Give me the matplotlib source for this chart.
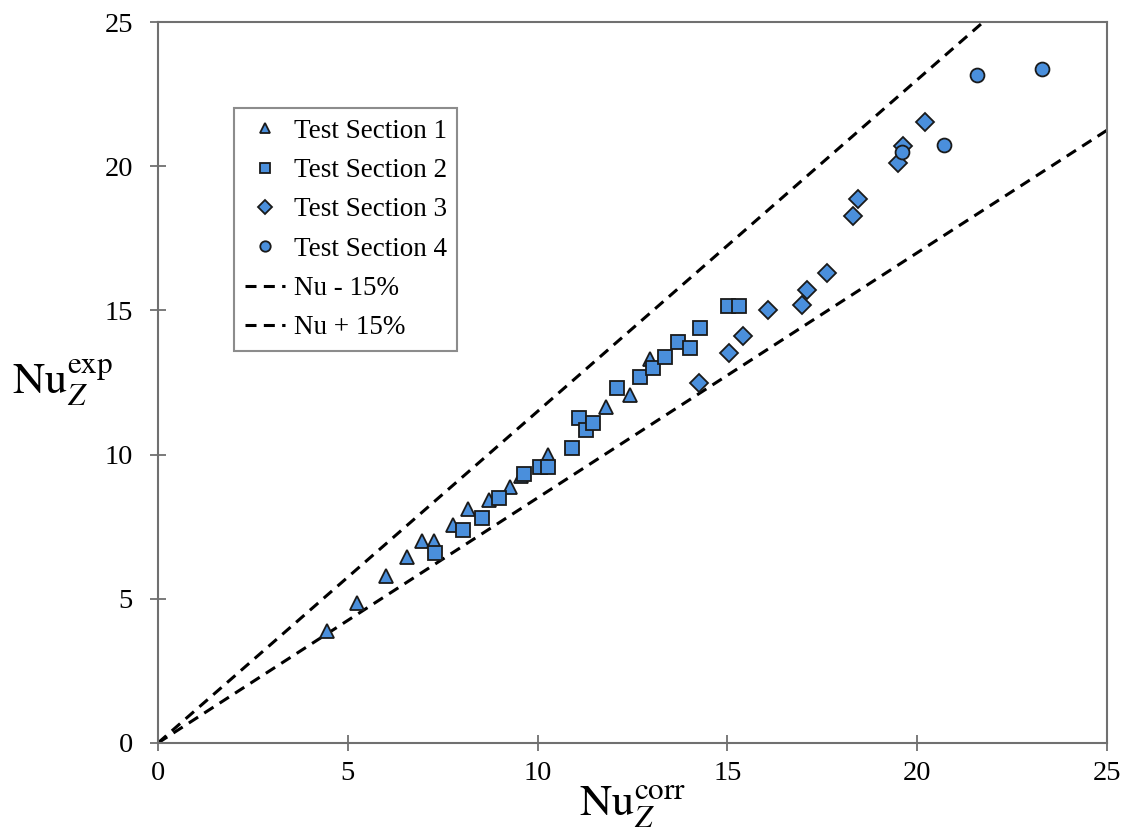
import matplotlib.pyplot as plt
import numpy as np

plt.rcParams['font.family'] = ['Liberation Serif', 'DejaVu Serif']
plt.rcParams['mathtext.fontset'] = 'stix'

# Test Section 1 (triangles)
ts1_x = [4.45, 5.24, 6.0, 6.56, 6.95, 7.28, 7.78, 8.16, 8.72, 9.27, 9.56, 10.28, 11.8, 12.42, 12.96]
ts1_y = [3.88, 4.85, 5.79, 6.46, 7.0, 7.0, 7.56, 8.11, 8.44, 8.89, 9.25, 9.97, 11.66, 12.07, 13.3]

# Test Section 2 (squares)
ts2_x = [7.29, 8.03, 8.53, 8.99, 9.65, 10.06, 10.28, 10.9, 11.1, 11.27, 11.45, 12.08, 12.7,
         13.05, 13.35, 13.69, 14.0, 14.28, 15.02, 15.3]
ts2_y = [6.6, 7.39, 7.79, 8.48, 9.33, 9.58, 9.58, 10.22, 11.26, 10.85, 11.09, 12.3, 12.7,
         12.99, 13.39, 13.89, 13.68, 14.4, 15.15, 15.15]

# Test Section 3 (diamonds)
ts3_x = [14.25, 15.05, 15.42, 16.08, 16.96, 17.1, 17.61, 18.3, 18.45, 19.5, 19.63, 20.21]
ts3_y = [12.49, 13.51, 14.11, 15.01, 15.19, 15.71, 16.29, 18.27, 18.85, 20.12, 20.7, 21.54]

# Test Section 4 (circles)
ts4_x = [19.59, 20.7, 21.58, 23.29]
ts4_y = [20.5, 20.72, 23.16, 23.37]

fill = '#4a8fdc'

fig = plt.figure(figsize=(11.32, 8.31), dpi=100)
ax = fig.add_axes([0.1396, 0.106, 0.8384, 0.8675])

mk = dict(linestyle='none', markerfacecolor=fill, markeredgecolor='#1a1a1a',
          markeredgewidth=1.3, zorder=3)
ax.plot(ts1_x, ts1_y, marker='^', markersize=10.5, label='Test Section 1', **mk)
ax.plot(ts2_x, ts2_y, marker='s', markersize=9.8, label='Test Section 2', **mk)
ax.plot(ts3_x, ts3_y, marker='D', markersize=9, label='Test Section 3', **mk)
ax.plot(ts4_x, ts4_y, marker='o', markersize=10, label='Test Section 4', **mk)

xl = np.array([0, 25])
ax.plot(xl, 0.85 * xl, color='black', lw=2.2, dashes=(3.6, 2.4), label='Nu - 15%', zorder=2)
ax.plot(xl, 1.15 * xl, color='black', lw=2.2, dashes=(3.6, 2.4), label='Nu + 15%', zorder=2)

ax.set_xlim(0, 25)
ax.set_ylim(0, 25)
ax.set_xticks(range(0, 26, 5))
ax.set_yticks(range(0, 26, 5))
ax.tick_params(direction='inout', length=12, width=1.3, color='#707070',
               labelsize=20.5)
ax.tick_params(axis='x', pad=7)
ax.tick_params(axis='y', pad=12)
for s in ax.spines.values():
    s.set_color('#707070')
    s.set_linewidth(1.5)

ax.set_xlabel(r'$\mathrm{Nu}_Z^{\mathrm{corr}}$', fontsize=32, labelpad=-2)
ax.set_ylabel(r'$\mathrm{Nu}_Z^{\mathrm{exp}}$', fontsize=32, rotation=0, labelpad=30,
              va='center')

leg = ax.legend(loc='upper left', bbox_to_anchor=(0.08, 0.881), borderaxespad=0,
                fontsize=19.5, frameon=True, fancybox=False, edgecolor='#707070',
                handlelength=1.5, handletextpad=0.3, labelspacing=0.53,
                markerscale=0.75, borderpad=0.4)
leg.get_frame().set_linewidth(1.5)

fig.savefig('out.png', dpi=100)
